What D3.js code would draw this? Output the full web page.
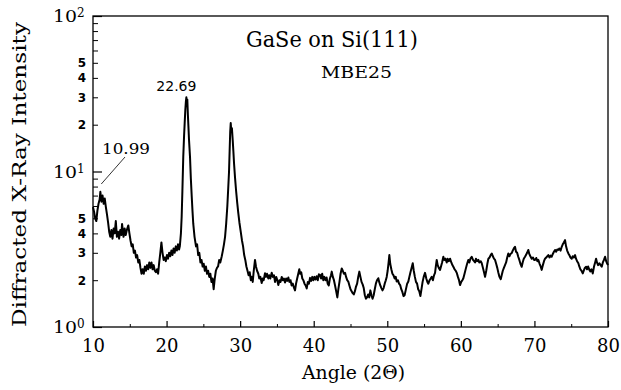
<!DOCTYPE html>
<html>
<head>
<meta charset="utf-8">
<script src="https://cdn.jsdelivr.net/npm/d3@7"></script>
<style>
  body { margin: 0; background: #fff; }
  svg { display: block; }
</style>
</head>
<body>
<div id="content"></div>
<script>
// scan: [angle 2theta, intensity]
const scan = [
  [10.0,5.9],[10.15,5.5],[10.3,5.0],[10.45,4.8],[10.6,5.6],[10.75,6.2],[10.9,6.6],[11.0,7.4],[11.15,6.4],[11.3,7.0],
  [11.45,6.2],[11.6,6.7],[11.75,5.9],[11.9,5.3],[12.05,4.7],[12.2,4.1],[12.35,3.8],[12.5,4.2],[12.65,3.7],[12.8,4.3],
  [12.95,4.0],[13.1,4.8],[13.25,3.8],[13.4,4.1],[13.55,3.7],[13.7,4.2],[13.85,3.9],[13.95,4.6],[14.15,3.8],[14.3,4.3],
  [14.45,3.9],[14.6,4.2],[14.8,4.5],[14.95,4.0],[15.1,3.6],[15.25,3.3],[15.4,3.4],[15.55,3.0],[15.7,3.1],[15.85,2.8],
  [16.0,2.9],[16.15,2.6],[16.3,2.7],[16.45,2.4],[16.6,2.2],[16.75,2.35],[16.9,2.2],[17.05,2.45],[17.2,2.3],[17.35,2.5],
  [17.5,2.35],[17.65,2.6],[17.8,2.4],[17.95,2.6],[18.1,2.35],[18.25,2.5],[18.4,2.3],[18.55,2.25],[18.7,2.35],[18.85,2.2],
  [19.0,2.6],[19.15,3.0],[19.3,3.5],[19.45,3.0],[19.6,2.7],[19.75,2.8],[19.9,2.65],[20.05,2.9],[20.2,2.75],[20.35,3.0],
  [20.5,2.85],[20.65,3.1],[20.8,2.9],[20.95,3.2],[21.1,3.0],[21.25,3.3],[21.4,3.1],[21.55,3.4],[21.7,3.15],[21.8,3.3],
  [21.95,4.0],[22.05,5.1],[22.15,7.5],[22.27,12.5],[22.38,17],[22.46,20.4],[22.55,25],[22.62,28],[22.69,30],[22.76,27],
  [22.82,29],[22.9,23],[22.97,19.5],[23.05,16],[23.19,12.3],[23.3,9.0],[23.42,6.9],[23.52,5.6],[23.63,4.6],[23.8,3.8],
  [24.0,3.3],[24.15,3.4],[24.3,2.9],[24.45,3.0],[24.6,2.6],[24.75,2.7],[24.9,2.45],[25.05,2.55],[25.2,2.3],[25.35,2.45],
  [25.5,2.2],[25.65,2.3],[25.8,2.1],[25.95,2.2],[26.1,1.95],[26.25,2.05],[26.4,1.75],[26.55,2.05],[26.7,2.3],[26.85,2.4],
  [27.0,2.45],[27.15,2.7],[27.3,2.6],[27.5,2.85],[27.65,3.1],[27.8,3.4],[27.95,3.8],[28.1,4.6],[28.26,6.0],[28.38,7.8],
  [28.49,10],[28.58,14],[28.65,18],[28.72,20.5],[28.8,18],[28.88,19],[28.99,15.9],[29.08,13.5],[29.17,11.3],[29.3,9.2],
  [29.44,7.6],[29.6,6.3],[29.75,5.4],[29.9,4.7],[30.08,4.1],[30.25,3.6],[30.4,3.3],[30.55,2.9],[30.7,2.7],[30.85,2.45],
  [31.0,2.3],[31.15,2.15],[31.3,2.25],[31.45,2.0],[31.6,2.1],[31.71,1.95],[31.85,2.3],[32.02,2.7],[32.15,2.45],[32.3,2.3],
  [32.47,2.2],[32.6,2.05],[32.75,2.1],[32.93,1.92],[33.05,2.05],[33.2,2.0],[33.38,2.22],[33.5,2.1],[33.65,2.2],[33.83,2.05],
  [33.95,2.15],[34.1,2.05],[34.29,2.23],[34.45,2.1],[34.6,2.15],[34.74,1.95],[34.9,2.1],[35.05,2.0],[35.19,1.86],[35.35,2.0],
  [35.5,1.95],[35.65,2.1],[35.8,2.0],[35.95,2.05],[36.1,1.93],[36.25,2.05],[36.4,1.98],[36.55,2.08],[36.7,1.95],[36.85,2.0],
  [37.0,1.85],[37.15,1.9],[37.3,1.8],[37.46,1.72],[37.6,1.9],[37.75,2.05],[37.9,2.2],[38.04,2.35],[38.15,2.2],[38.3,2.25],
  [38.45,2.05],[38.59,2.0],[38.75,1.9],[38.9,1.85],[39.05,1.77],[39.2,1.95],[39.35,1.9],[39.5,2.07],[39.65,1.98],[39.8,2.1],
  [39.95,2.0],[40.1,2.1],[40.25,2.02],[40.4,2.12],[40.55,2.0],[40.7,2.18],[40.86,2.16],[41.0,2.05],[41.15,2.2],[41.3,2.0],
  [41.45,2.1],[41.6,2.0],[41.75,2.08],[41.9,1.9],[42.05,1.85],[42.2,2.05],[42.35,2.15],[42.45,2.27],[42.6,2.1],[42.75,2.0],
  [42.9,1.85],[43.05,1.7],[43.21,1.55],[43.35,1.75],[43.5,1.95],[43.65,2.2],[43.81,2.38],[43.95,2.3],[44.1,2.2],[44.26,2.23],
  [44.4,2.1],[44.55,2.0],[44.7,1.96],[44.85,1.85],[45.0,1.75],[45.15,1.7],[45.3,1.65],[45.45,1.62],[45.6,1.7],[45.75,1.82],
  [45.9,1.9],[46.05,2.1],[46.2,2.27],[46.35,2.1],[46.5,1.95],[46.65,1.88],[46.8,1.78],[46.95,1.6],[47.1,1.52],[47.25,1.55],
  [47.4,1.62],[47.55,1.55],[47.7,1.72],[47.85,1.6],[48.0,1.52],[48.15,1.6],[48.3,1.75],[48.45,1.9],[48.6,2.0],[48.78,2.06],
  [48.9,1.95],[49.05,1.85],[49.2,1.78],[49.35,1.72],[49.5,1.78],[49.65,1.9],[49.8,2.0],[49.92,2.1],[50.05,2.3],[50.18,2.6],
  [50.28,2.9],[50.4,2.55],[50.55,2.35],[50.7,2.2],[50.85,2.15],[51.0,2.05],[51.15,2.1],[51.28,1.96],[51.45,2.0],[51.6,1.9],
  [51.75,1.86],[51.9,1.75],[52.05,1.68],[52.2,1.58],[52.35,1.6],[52.5,1.72],[52.7,1.9],[52.86,1.96],[53.0,2.1],[53.15,2.25],
  [53.3,2.4],[53.46,2.57],[53.6,2.3],[53.75,2.1],[53.9,1.95],[54.05,1.9],[54.2,1.75],[54.35,1.7],[54.5,1.58],[54.65,1.75],
  [54.8,1.95],[54.95,2.1],[55.13,2.23],[55.3,2.05],[55.45,1.95],[55.58,1.9],[55.75,2.0],[55.9,2.05],[56.04,2.1],[56.2,2.0],
  [56.35,2.15],[56.49,2.23],[56.6,2.45],[56.72,2.7],[56.85,2.5],[57.0,2.4],[57.17,2.33],[57.3,2.45],[57.45,2.6],[57.62,2.83],
  [57.75,2.7],[57.9,2.75],[58.08,2.6],[58.2,2.75],[58.35,2.65],[58.53,2.75],[58.7,2.6],[58.85,2.5],[58.98,2.44],[59.15,2.35],
  [59.3,2.3],[59.44,2.23],[59.6,2.1],[59.75,2.0],[59.89,1.86],[60.05,1.95],[60.2,2.0],[60.34,2.06],[60.5,2.2],[60.7,2.4],
  [60.85,2.55],[61.02,2.7],[61.15,2.6],[61.3,2.75],[61.48,2.83],[61.65,2.7],[61.8,2.65],[61.93,2.6],[62.05,2.75],[62.2,2.65],
  [62.38,2.7],[62.5,2.6],[62.7,2.65],[62.84,2.57],[63.0,2.4],[63.15,2.25],[63.29,2.1],[63.45,2.3],[63.6,2.55],[63.74,2.75],
  [63.9,2.8],[64.05,2.9],[64.2,2.97],[64.35,2.85],[64.5,2.75],[64.65,2.7],[64.8,2.55],[64.95,2.4],[65.1,2.23],[65.25,2.1],
  [65.42,2.03],[65.55,2.15],[65.7,2.3],[65.85,2.4],[66.0,2.5],[66.15,2.6],[66.3,2.8],[66.45,2.97],[66.6,2.85],[66.75,2.95],
  [66.91,2.99],[67.05,3.1],[67.2,3.2],[67.36,3.28],[67.5,3.05],[67.65,3.0],[67.8,2.83],[67.95,2.7],[68.1,2.55],[68.27,2.44],
  [68.4,2.6],[68.55,2.75],[68.72,2.83],[68.85,2.9],[69.0,3.0],[69.17,3.13],[69.3,2.95],[69.45,2.85],[69.63,2.75],[69.8,2.8],
  [69.95,2.7],[70.08,2.7],[70.25,2.78],[70.4,2.65],[70.53,2.7],[70.7,2.55],[70.85,2.45],[70.99,2.33],[71.15,2.5],[71.3,2.65],
  [71.44,2.75],[71.6,2.8],[71.75,2.85],[71.89,2.9],[72.05,2.8],[72.2,2.88],[72.35,2.83],[72.5,2.95],[72.65,3.05],[72.8,3.13],
  [72.95,3.05],[73.1,3.15],[73.25,3.13],[73.4,3.2],[73.55,3.1],[73.71,3.28],[73.85,3.4],[74.0,3.5],[74.16,3.62],[74.3,3.3],
  [74.45,3.1],[74.61,2.97],[74.75,2.9],[74.9,2.8],[75.07,2.75],[75.2,2.85],[75.35,2.8],[75.52,2.9],[75.65,2.75],[75.8,2.65],
  [75.97,2.57],[76.1,2.45],[76.25,2.35],[76.4,2.3],[76.57,2.21],[76.7,2.3],[76.85,2.4],[77.02,2.44],[77.15,2.35],[77.3,2.45],
  [77.47,2.33],[77.6,2.28],[77.75,2.35],[77.93,2.21],[78.1,2.45],[78.25,2.6],[78.38,2.75],[78.5,2.6],[78.65,2.5],[78.83,2.57],
  [79.0,2.5],[79.15,2.44],[79.3,2.6],[79.45,2.7],[79.6,2.83],[79.75,2.65],[79.9,2.55],[80.0,2.5]
];

const xMajor = [10, 20, 30, 40, 50, 60, 70, 80];
const xMinor = [15, 25, 35, 45, 55, 65, 75];
const yMajor = [1, 10, 100];
const yMinor = [2, 3, 4, 5, 6, 7, 8, 9, 20, 30, 40, 50, 60, 70, 80, 90];
const yMinorLabeled = [2, 3, 4, 5, 20, 30, 40, 50];
const peaks = [{ angle: 22.69, label: "22.69" }, { angle: 10.99, label: "10.99" }];

const W = 621, H = 390;
const plotLeft = 93, plotRight = 608, plotTop = 16, plotBottom = 327;

const svg = d3.select("#content")
    .append("svg")
    .attr("width", W)
    .attr("height", H);

const x = d3.scaleLinear().domain([10, 80]).range([plotLeft, plotRight]);
const y = d3.scaleLog().domain([1, 100]).range([plotBottom, plotTop]);

// frame
svg.append("rect")
    .attr("x", plotLeft).attr("y", plotTop)
    .attr("width", plotRight - plotLeft).attr("height", plotBottom - plotTop)
    .attr("fill", "none").attr("stroke", "#000").attr("stroke-width", 1.3);

// x axis
const xAxis = svg.append("g")
    .attr("transform", "translate(0," + plotBottom + ")")
    .call(d3.axisBottom(x).tickValues(xMajor).tickSize(-6).tickPadding(12).tickFormat(d3.format("d")));
xAxis.select(".domain").remove();
xAxis.selectAll("text")
    .attr("font-family", "'DejaVu Serif', serif")
    .attr("font-size", 18)
    .attr("fill", "#000");
xAxis.selectAll("line").attr("stroke-width", 1.2);

const xMinorAxis = svg.append("g")
    .attr("transform", "translate(0," + plotBottom + ")")
    .call(d3.axisBottom(x).tickValues(xMinor).tickSize(-3).tickFormat(""));
xMinorAxis.select(".domain").remove();

// y axis
const yAxis = svg.append("g")
    .attr("transform", "translate(" + plotLeft + ",0)")
    .call(d3.axisLeft(y).tickValues(yMajor).tickSize(-9).tickFormat(""));
yAxis.select(".domain").remove();
yAxis.selectAll("line").attr("stroke-width", 1.2);

const yMinorAxis = svg.append("g")
    .attr("transform", "translate(" + plotLeft + ",0)")
    .call(d3.axisLeft(y).tickValues(yMinor).tickSize(-5).tickFormat(""));
yMinorAxis.select(".domain").remove();

// major labels 10^n
const majorLabels = svg.append("g").selectAll("text")
    .data(yMajor)
    .enter()
    .append("text")
    .attr("x", 53)
    .attr("y", d => y(d) + 6)
    .attr("font-family", "'DejaVu Serif', serif")
    .attr("font-size", 17)
    .attr("fill", "#000");
majorLabels.append("tspan")
    .attr("textLength", 24)
    .attr("lengthAdjust", "spacingAndGlyphs")
    .text("10");
majorLabels.append("tspan")
    .attr("dy", -5)
    .attr("font-size", 12)
    .text(d => Math.round(Math.log10(d)));

// minor labels 2..5
svg.append("g").selectAll("text")
    .data(yMinorLabeled)
    .enter()
    .append("text")
    .attr("x", 86)
    .attr("y", d => y(d) + 4.5)
    .attr("text-anchor", "end")
    .attr("font-family", "'DejaVu Sans', sans-serif")
    .attr("font-weight", "bold")
    .attr("font-size", 12)
    .attr("fill", "#000")
    .text(d => String(d)[0]);

// spectrum
const line = d3.line()
    .x(d => x(d[0]))
    .y(d => y(d[1]));

svg.append("path")
    .datum(scan)
    .attr("fill", "none")
    .attr("stroke", "#000")
    .attr("stroke-width", 2)
    .attr("stroke-linejoin", "round")
    .attr("d", line);

// peak annotations
svg.append("text")
    .attr("x", x(peaks[0].angle) - 10)
    .attr("y", 91)
    .attr("text-anchor", "middle")
    .attr("font-family", "'DejaVu Sans', sans-serif")
    .attr("font-size", 14)
    .attr("fill", "#000")
    .text(peaks[0].label);

svg.append("text")
    .attr("x", 102)
    .attr("y", 154)
    .attr("font-family", "'DejaVu Serif', serif")
    .attr("font-size", 15)
    .attr("textLength", 48)
    .attr("lengthAdjust", "spacingAndGlyphs")
    .attr("fill", "#000")
    .text(peaks[1].label);

svg.append("line")
    .attr("x1", x(peaks[1].angle) + 1).attr("y1", 184)
    .attr("x2", 125).attr("y2", 157)
    .attr("stroke", "#000").attr("stroke-width", 0.8);

// titles
svg.append("text")
    .attr("x", 246).attr("y", 47)
    .attr("font-family", "'DejaVu Serif', serif")
    .attr("font-size", 22)
    .attr("textLength", 172)
    .attr("lengthAdjust", "spacingAndGlyphs")
    .attr("fill", "#000")
    .text("GaSe on Si(111)");

svg.append("text")
    .attr("x", 321).attr("y", 78)
    .attr("font-family", "'DejaVu Serif', serif")
    .attr("font-size", 16)
    .attr("textLength", 71)
    .attr("lengthAdjust", "spacingAndGlyphs")
    .attr("fill", "#000")
    .text("MBE25");

// axis labels
svg.append("text")
    .attr("x", 302).attr("y", 379)
    .attr("font-family", "'DejaVu Serif', serif")
    .attr("font-size", 18)
    .attr("textLength", 103)
    .attr("lengthAdjust", "spacingAndGlyphs")
    .attr("fill", "#000")
    .text("Angle (2Θ)");

svg.append("text")
    .attr("transform", "translate(26,327) rotate(-90)")
    .attr("font-family", "'DejaVu Serif', serif")
    .attr("font-size", 19)
    .attr("textLength", 305)
    .attr("lengthAdjust", "spacingAndGlyphs")
    .attr("fill", "#000")
    .text("Diffracted X-Ray Intensity");
</script>
</body>
</html>
